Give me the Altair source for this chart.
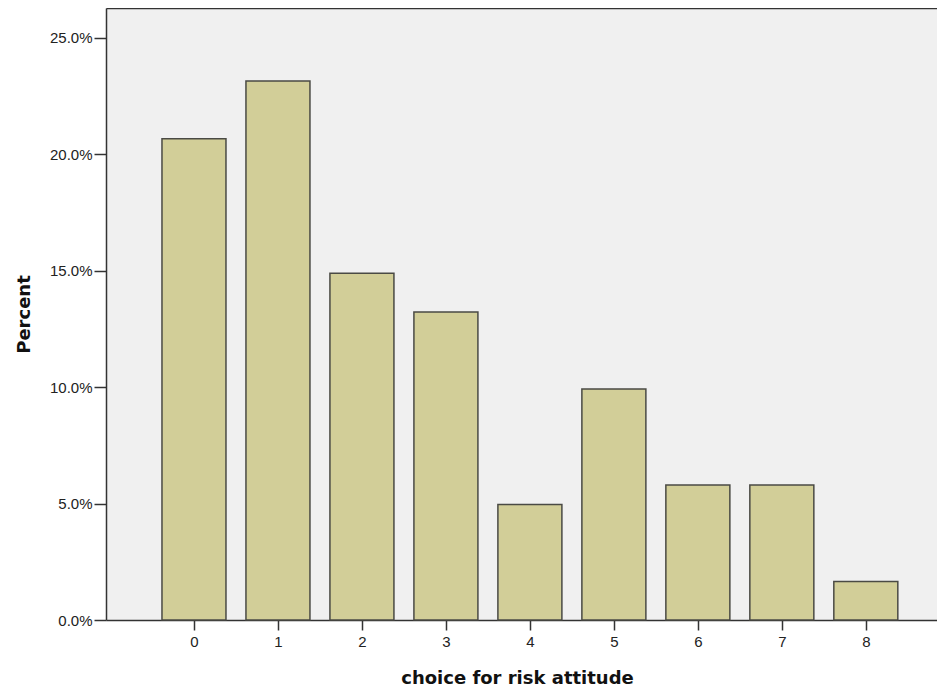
import altair as alt
import pandas as pd

choices = [0, 1, 2, 3, 4, 5, 6, 7, 8]
percents = [20.66, 23.14, 14.88, 13.22, 4.96, 9.92, 5.79, 5.79, 1.65]
y_ticks = [0, 5, 10, 15, 20, 25]

df = pd.DataFrame({"choice": choices, "percent": percents})

x_scale = alt.Scale(domain=[-0.988, 8.788], nice=False, zero=False)
y_scale = alt.Scale(domain=[0, 26.27], nice=False)

bars = alt.Chart(df).mark_bar(
    size=64, color="#d2ce98", stroke="#4a4a44", strokeWidth=1.5
).encode(
    x=alt.X("choice:Q", scale=x_scale,
            axis=alt.Axis(values=choices, format="d", title="choice for risk attitude",
                          grid=False, tickSize=10, labelPadding=4,
                          titlePadding=20, titleX=411)),
    y=alt.Y("percent:Q", scale=y_scale,
            axis=alt.Axis(values=y_ticks, labelExpr="format(datum.value, '.1f') + '%'",
                          title="Percent", grid=False, tickSize=12, labelPadding=2,
                          titlePadding=16)),
)

top = alt.Chart(df).mark_bar(opacity=0).encode(
    x=alt.X("choice:Q", scale=x_scale,
            axis=alt.Axis(orient="top", labels=False, ticks=False, title=None,
                          grid=False, domainColor="#333333", domainWidth=1.5)),
    y=alt.Y("percent:Q", scale=y_scale),
)

chart = alt.layer(bars, top).resolve_axis(x="independent").properties(
    width=831, height=612,
    autosize=alt.AutoSizeParams(type="none"),
    padding={"left": 98, "top": 0, "right": 0, "bottom": 72},
    background="white",
).configure_view(
    fill="#f0f0f0", stroke=None
).configure_axis(
    domainColor="#333333", domainWidth=1.5, tickColor="#333333", tickWidth=1.5,
    labelFont="Liberation Sans", labelFontSize=15, labelColor="#222222",
    titleFont="DejaVu Sans", titleFontSize=18, titleFontWeight="bold", titleColor="#111111",
)

chart.save("out.html", embed_options={"renderer": "svg", "actions": False})
